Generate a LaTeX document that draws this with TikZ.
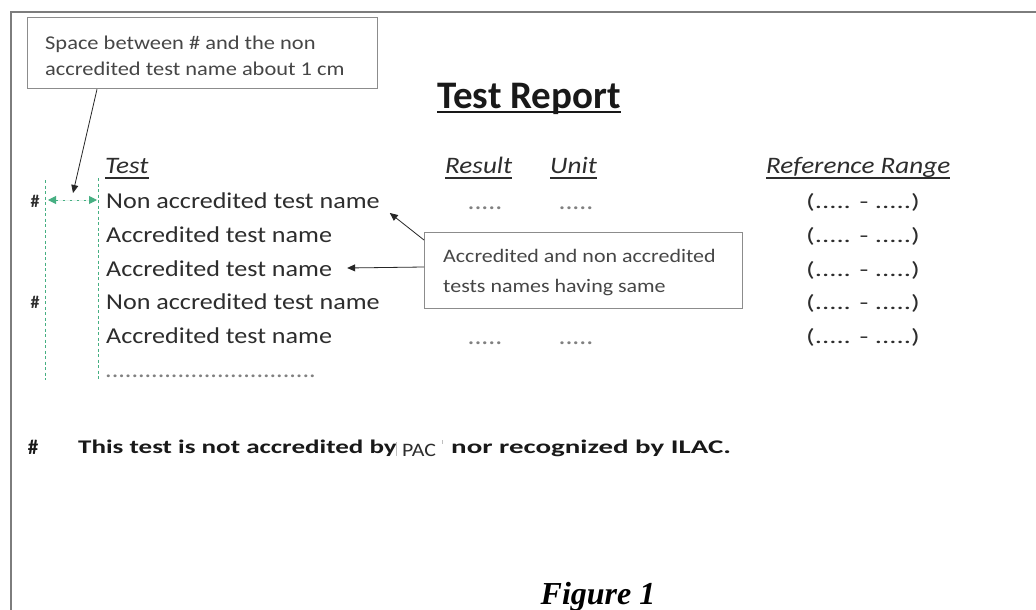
\documentclass[tikz,border=0pt]{standalone}
\usepackage{fontspec}
\usetikzlibrary{arrows.meta,calc}
\newfontfamily\cf{Carlito}[FakeStretch=1.15]
\newfontfamily\cfw{Carlito}[FakeStretch=1.4]
\newfontfamily\cfx{Carlito}[FakeStretch=1.5]
\newfontfamily\cfn{Carlito}
\newfontfamily\tnr{Liberation Serif}
\definecolor{framec}{RGB}{125,125,125}
\definecolor{boxc}{RGB}{140,140,140}
\definecolor{txt}{RGB}{45,45,45}
\definecolor{notec}{RGB}{70,70,70}
\definecolor{gdash}{RGB}{70,175,130}
\newcommand\fsz[1]{\fontsize{#1}{#1}\selectfont}
\begin{document}
\begin{tikzpicture}[x=1pt,y=-1pt,
  callout/.style={draw=boxc,line width=1.3pt,inner sep=0pt,anchor=north west},
  rowtxt/.style={anchor=base west,inner sep=0pt,text=txt,font=\cf\fsz{22.7}},
  hdr/.style={anchor=base west,inner sep=0pt,text=txt,font=\cf\itshape\fsz{23.6}},
  dotcell/.style={anchor=base,inner sep=0pt,text=gray,font=\cf\fsz{24}},
  rng/.style={anchor=base,inner sep=0pt,text=txt,font=\cfw\fsz{20.5}},
  ptr/.style={draw=black!85,line width=0.8pt,-{Triangle[length=8pt,width=7pt]}},
  guide/.style={draw=gdash,line width=1pt,dash pattern=on 3pt off 2.5pt},
  note/.style={anchor=base west,inner sep=0pt,text=notec,font=\cf\fsz{19.5}},
  uline/.style={draw=txt,line width=1.3pt},
]
\useasboundingbox (0,0) rectangle (1036,610);
\fill[white] (0,0) rectangle (1036,610);
% page frame
\draw[framec,line width=2.5pt] (11,610) -- (11,12) -- (1036,12);

% title
\node[anchor=base,inner sep=0pt,text=black!90,font=\cfn\bfseries\fsz{39}] (title) at (529,108) {Test Report};
\draw[draw=black!90,line width=2.4pt] ($(title.base west)+(0,4)$) -- ($(title.base east)+(0,4)$);

% callout 1
\node[callout,minimum width=350pt,minimum height=71pt] (box1) at (27,17) {};
\node[note] (n1a) at (45,50) {Space between \# and the non};
\node[note] (n1b) at (45,76) {accredited test name about 1 cm};

% headers
\node[hdr] (hTest) at (105,173) {Test};
\node[hdr] (hResult) at (445,173) {Result};
\node[hdr] (hUnit) at (550,173) {Unit};
\node[hdr] (hRange) at (766,173) {Reference Range};
\foreach \h in {hTest,hResult,hUnit,hRange}
  \draw[uline] ($(\h.base west)+(0,5)$) -- ($(\h.base east)+(0,5)$);

% green guides
\coordinate (gA1) at (45,180); \coordinate (gA2) at (45,380);
\coordinate (gB1) at (98,178); \coordinate (gB2) at (98,380);
\draw[guide] (gA1) -- (gA2);
\draw[guide] (gB1) -- (gB2);
\coordinate (gL) at (48,200); \coordinate (gR) at (97,200);
\draw[draw=gdash,fill=gdash,line width=1pt,dash pattern=on 2pt off 5pt,
  {Triangle[length=8pt,width=8pt]}-{Triangle[length=8pt,width=8pt]}] (gL) -- (gR);

% rows
\node[rowtxt] (r1) at (106,208) {Non accredited test name};
\node[rowtxt] (r2) at (106,242) {Accredited test name};
\node[rowtxt] (r3) at (106,276) {Accredited test name};
\node[rowtxt] (r4) at (106,309) {Non accredited test name};
\node[rowtxt] (r5) at (106,343) {Accredited test name};
\node[rowtxt,text=gray] (r6) at (105,377) {................................};

\node[anchor=base,inner sep=0pt,text=txt,font=\cfn\bfseries\fsz{18}] (hash1) at (35,207) {\#};
\node[anchor=base,inner sep=0pt,text=txt,font=\cfn\bfseries\fsz{18}] (hash4) at (35,308) {\#};

\node[dotcell] (res1) at (485,209) {.....};
\node[dotcell] (unit1) at (576,209) {.....};
\node[dotcell] (res5) at (485,344) {.....};
\node[dotcell] (unit5) at (576,344) {.....};

\node[rng] (rg1) at (863,208) {(..... - .....)};
\node[rng] (rg2) at (863,242) {(..... - .....)};
\node[rng] (rg3) at (863,276) {(..... - .....)};
\node[rng] (rg4) at (863,309) {(..... - .....)};
\node[rng] (rg5) at (863,343) {(..... - .....)};

% callout 2
\node[callout,minimum width=318pt,minimum height=76pt] (box2) at (424,232) {};
\node[note,font=\cf\fsz{19.1}] (n2a) at (443,262) {Accredited and non accredited};
\node[note,font=\cf\fsz{19.1}] (n2b) at (443,292) {tests names having same};

% pointers
\coordinate (tipA) at (73,193);
\draw[ptr] ($(box1.south west)+(70,0)$) -- (tipA);
\coordinate (tipB) at ($(r1.base east)+(10,5)$);
\draw[ptr] ($(box2.north west)+(0,8)$) -- (tipB);
\coordinate (tipC) at ($(r3.base east)+(15,-8)$);
\draw[ptr] ($(box2.north west)+(0,35)$) -- (tipC);

% footnote
\node[anchor=base,inner sep=0pt,text=black!90,font=\cfn\bfseries\fsz{21}] (fhash) at (33,454) {\#};
\node[anchor=base west,inner sep=0pt,text=black!90,font=\cfw\bfseries\fsz{19.3}] (f1) at (78,453) {This test is not accredited by};
\node[anchor=base,inner sep=0pt,text=txt,font=\cf\fsz{19}] (pac) at (419,456) {PAC};
\node[anchor=base west,inner sep=0pt,text=black!90,font=\cfx\bfseries\fsz{19.3}] (f2) at (451,453) {nor recognized by ILAC.};
\draw[black!25,line width=0.8pt] ($(pac.base west)+(-5,-14)$) -- ($(pac.base west)+(-5,0)$);
\draw[black!25,line width=0.8pt] ($(pac.base east)+(6,-16)$) -- ($(pac.base east)+(6,-12)$);

% caption
\node[anchor=base,inner sep=0pt,text=black,font=\tnr\bfseries\itshape\fsz{32}] (fig) at (598,604) {Figure 1};
\end{tikzpicture}
\end{document}
